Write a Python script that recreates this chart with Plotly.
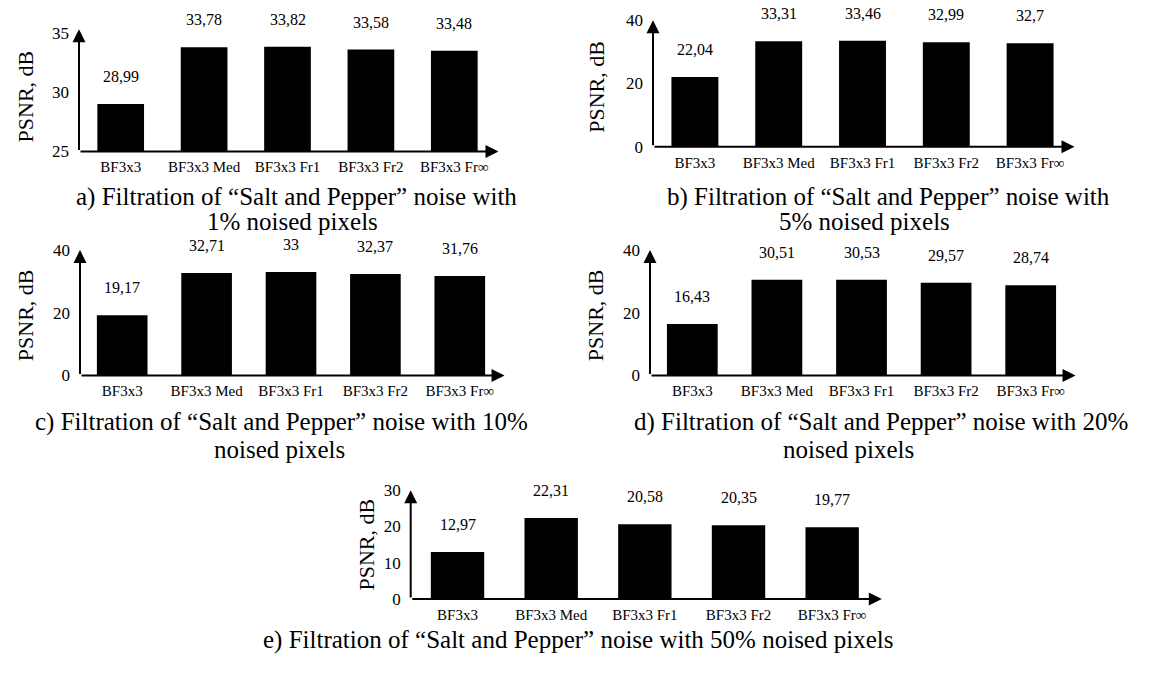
import plotly.graph_objects as go

# ---------------- data ----------------
categories = ["BF3x3", "BF3x3 Med", "BF3x3 Fr1", "BF3x3 Fr2", "BF3x3 Fr\u221e"]
psnr_1 = [28.99, 33.78, 33.82, 33.58, 33.48]
psnr_5 = [22.04, 33.31, 33.46, 32.99, 32.70]
psnr_10 = [19.17, 32.71, 33.00, 32.37, 31.76]
psnr_20 = [16.43, 30.51, 30.53, 29.57, 28.74]
psnr_50 = [12.97, 22.31, 20.58, 20.35, 19.77]
y_ticks_1 = [25, 30, 35]
y_ticks_5 = [0, 20, 40]
y_ticks_10 = [0, 20, 40]
y_ticks_20 = [0, 20, 40]
y_ticks_50 = [0, 10, 20, 30]
y_title = "PSNR, dB"
captions_1 = ["a) Filtration of \u201cSalt and Pepper\u201d noise with", "1% noised pixels"]
captions_5 = ["b) Filtration of \u201cSalt and Pepper\u201d noise with", "5% noised pixels"]
captions_10 = ["c) Filtration of \u201cSalt and Pepper\u201d noise with 10%", "noised pixels"]
captions_20 = ["d) Filtration of \u201cSalt and Pepper\u201d noise with 20%", "noised pixels"]
captions_50 = ["e) Filtration of \u201cSalt and Pepper\u201d noise with 50% noised pixels"]

W, H = 1151, 679
FONT = "Liberation Serif, Times New Roman, serif"


def fx(px):
    return px / W


def fy(py):
    return 1 - py / H


# layout geometry (pixels): x0, x1, y_top, y_bottom, y range, title centre, caption lines (cx, cy)
panels = [
    dict(vals=psnr_1, ticks=y_ticks_1, x=(79, 496), y=(20.8, 146.5), rng=[25, 35.3],
         title=(25, 90), caps=captions_1, cap_pos=[(296, 193), (292, 219)], width=0.56),
    dict(vals=psnr_5, ticks=y_ticks_5, x=(653, 1072), y=(11.5, 141.7), rng=[0, 40],
         title=(597, 80), caps=captions_5, cap_pos=[(888, 193), (864, 219)], width=0.56),
    dict(vals=psnr_10, ticks=y_ticks_10, x=(80, 502), y=(248, 377), rng=[0, 40],
         title=(25, 315), caps=captions_10, cap_pos=[(281, 425), (279, 453)], width=0.6),
    dict(vals=psnr_20, ticks=y_ticks_20, x=(650, 1073), y=(248, 377), rng=[0, 40],
         title=(595, 315), caps=captions_20, cap_pos=[(881, 425), (848, 453)], width=0.6),
    dict(vals=psnr_50, ticks=y_ticks_50, x=(410.7, 879), y=(495, 607), rng=[0, 30],
         title=(367, 551), caps=captions_50, cap_pos=[(578, 649)], width=0.57),
]

fig = go.Figure()
annotations = []
layout = {}

for i, p in enumerate(panels, start=1):
    xa = "x" if i == 1 else f"x{i}"
    ya = "y" if i == 1 else f"y{i}"
    xkey = "xaxis" if i == 1 else f"xaxis{i}"
    ykey = "yaxis" if i == 1 else f"yaxis{i}"

    fig.add_trace(go.Bar(
        x=categories, y=p["vals"], xaxis=xa, yaxis=ya,
        marker=dict(color="black", line=dict(width=0)),
        width=p["width"], showlegend=False, hoverinfo="x+y",
    ))

    layout[xkey] = dict(
        domain=[fx(p["x"][0]), fx(p["x"][1])], anchor=ya,
        type="category", range=[-0.5, 4.5],
        showline=False, showgrid=False, zeroline=False, ticks="",
        ticklabelstandoff=5,
        tickfont=dict(family=FONT, size=15, color="black"),
        fixedrange=True,
    )
    layout[ykey] = dict(
        domain=[fy(p["y"][1]), fy(p["y"][0])], anchor=xa,
        range=p["rng"], tickvals=p["ticks"],
        showline=False, showgrid=False, zeroline=False, ticks="",
        ticklabelstandoff=9,
        tickfont=dict(family=FONT, size=17, color="black"),
        fixedrange=True,
    )

    xd = f"{xa} domain"
    yd = f"{ya} domain"
    # axis arrows
    annotations.append(dict(
        x=1.006, y=0, xref=xd, yref=yd, ax=0, ay=0, axref=xd, ayref=yd,
        showarrow=True, arrowhead=2, arrowsize=1.3, arrowwidth=2, arrowcolor="black", text="",
    ))
    annotations.append(dict(
        x=0, y=1.0, xref=xd, yref=yd, ax=0, ay=0, axref=xd, ayref=yd,
        showarrow=True, arrowhead=2, arrowsize=1.3, arrowwidth=2, arrowcolor="black", text="",
    ))
    # value labels
    for c, v in zip(categories, p["vals"]):
        annotations.append(dict(
            x=c, y=v, xref=xa, yref=ya, text=f"{v:g}".replace(".", ","),
            showarrow=False, yanchor="bottom", yshift=17,
            font=dict(family=FONT, size=16, color="black"),
        ))
    # y title
    annotations.append(dict(
        x=fx(p["title"][0]), y=fy(p["title"][1]), xref="paper", yref="paper",
        text=y_title, textangle=-90, showarrow=False,
        xanchor="center", yanchor="middle",
        font=dict(family=FONT, size=22, color="black"),
    ))
    # captions
    for txt, (cx, cy) in zip(p["caps"], p["cap_pos"]):
        annotations.append(dict(
            x=fx(cx), y=fy(cy), xref="paper", yref="paper", text=txt,
            showarrow=False, xanchor="center", yanchor="middle",
            font=dict(family=FONT, size=25, color="black"),
        ))

fig.update_layout(
    width=W, height=H, autosize=False,
    margin=dict(l=0, r=0, t=0, b=0),
    paper_bgcolor="white", plot_bgcolor="white",
    annotations=annotations,
    showlegend=False,
    **layout,
)

fig.write_html("out.html", config={"displayModeBar": False},
               post_script="document.body.style.margin='0';")
